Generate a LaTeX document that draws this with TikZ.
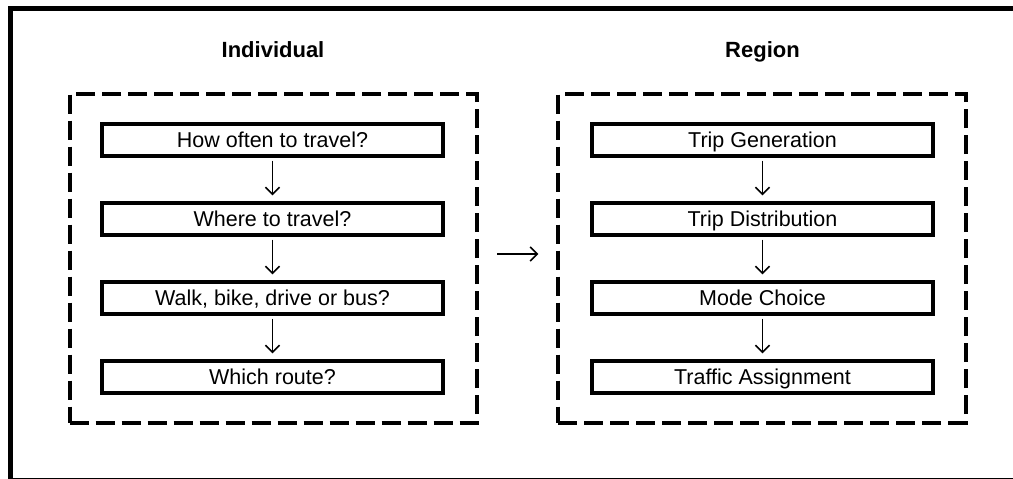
\documentclass[tikz,border=0pt]{standalone}
\usepackage{fontspec}
\setmainfont{Liberation Sans}
\usetikzlibrary{arrows.meta}
\begin{document}
\begin{tikzpicture}[x=1pt,y=-1pt,
  stepbox/.style={draw, line width=4pt, minimum width=341pt, minimum height=32pt, inner sep=0pt, text height=15.4pt, text depth=0pt, font=\fontsize{21.5}{25}\selectfont},
  container/.style={draw, line width=4pt, dash pattern=on 19pt off 7pt, minimum width=407.5pt, minimum height=328.5pt, inner sep=0pt},
  title/.style={anchor=base, font=\bfseries\fontsize{22}{26}\selectfont},
  flow/.style={line width=1.5pt, -{Straight Barb[length=7pt,width=14pt]}},
]
\useasboundingbox (0,0) rectangle (1013,479);
\draw[line width=4.5pt] (10.5,8.5) rectangle (1025,480);

\node[title] (t1) at (273,57.3) {Individual};
\node[title] (t2) at (762.5,57.3) {Region};

\node[container] (indiv) at (273.25,258.25) {};
\node[container] (region) at (762,258.25) {};

\node[stepbox] (a1) at (272.5,140) {How often to travel?};
\node[stepbox] (a2) at (272.5,219) {Where to travel?};
\node[stepbox] (a3) at (272.5,298) {Walk, bike, drive or bus?};
\node[stepbox] (a4) at (272.5,377) {Which route?};

\node[stepbox] (b1) at (762.5,140) {Trip Generation};
\node[stepbox] (b2) at (762.5,219) {Trip Distribution};
\node[stepbox] (b3) at (762.5,298) {Mode Choice};
\node[stepbox] (b4) at (762.5,377) {Traffic Assignment};

\foreach \p/\q in {a1/a2,a2/a3,a3/a4,b1/b2,b2/b3,b3/b4}
  \draw[flow, shorten <=2.7pt, shorten >=5.7pt] (\p) -- (\q);

\draw[flow, shorten <=18pt, shorten >=18pt] ([yshift=4.25pt]indiv.east) -- ([yshift=4.25pt]region.west);
\end{tikzpicture}
\end{document}
